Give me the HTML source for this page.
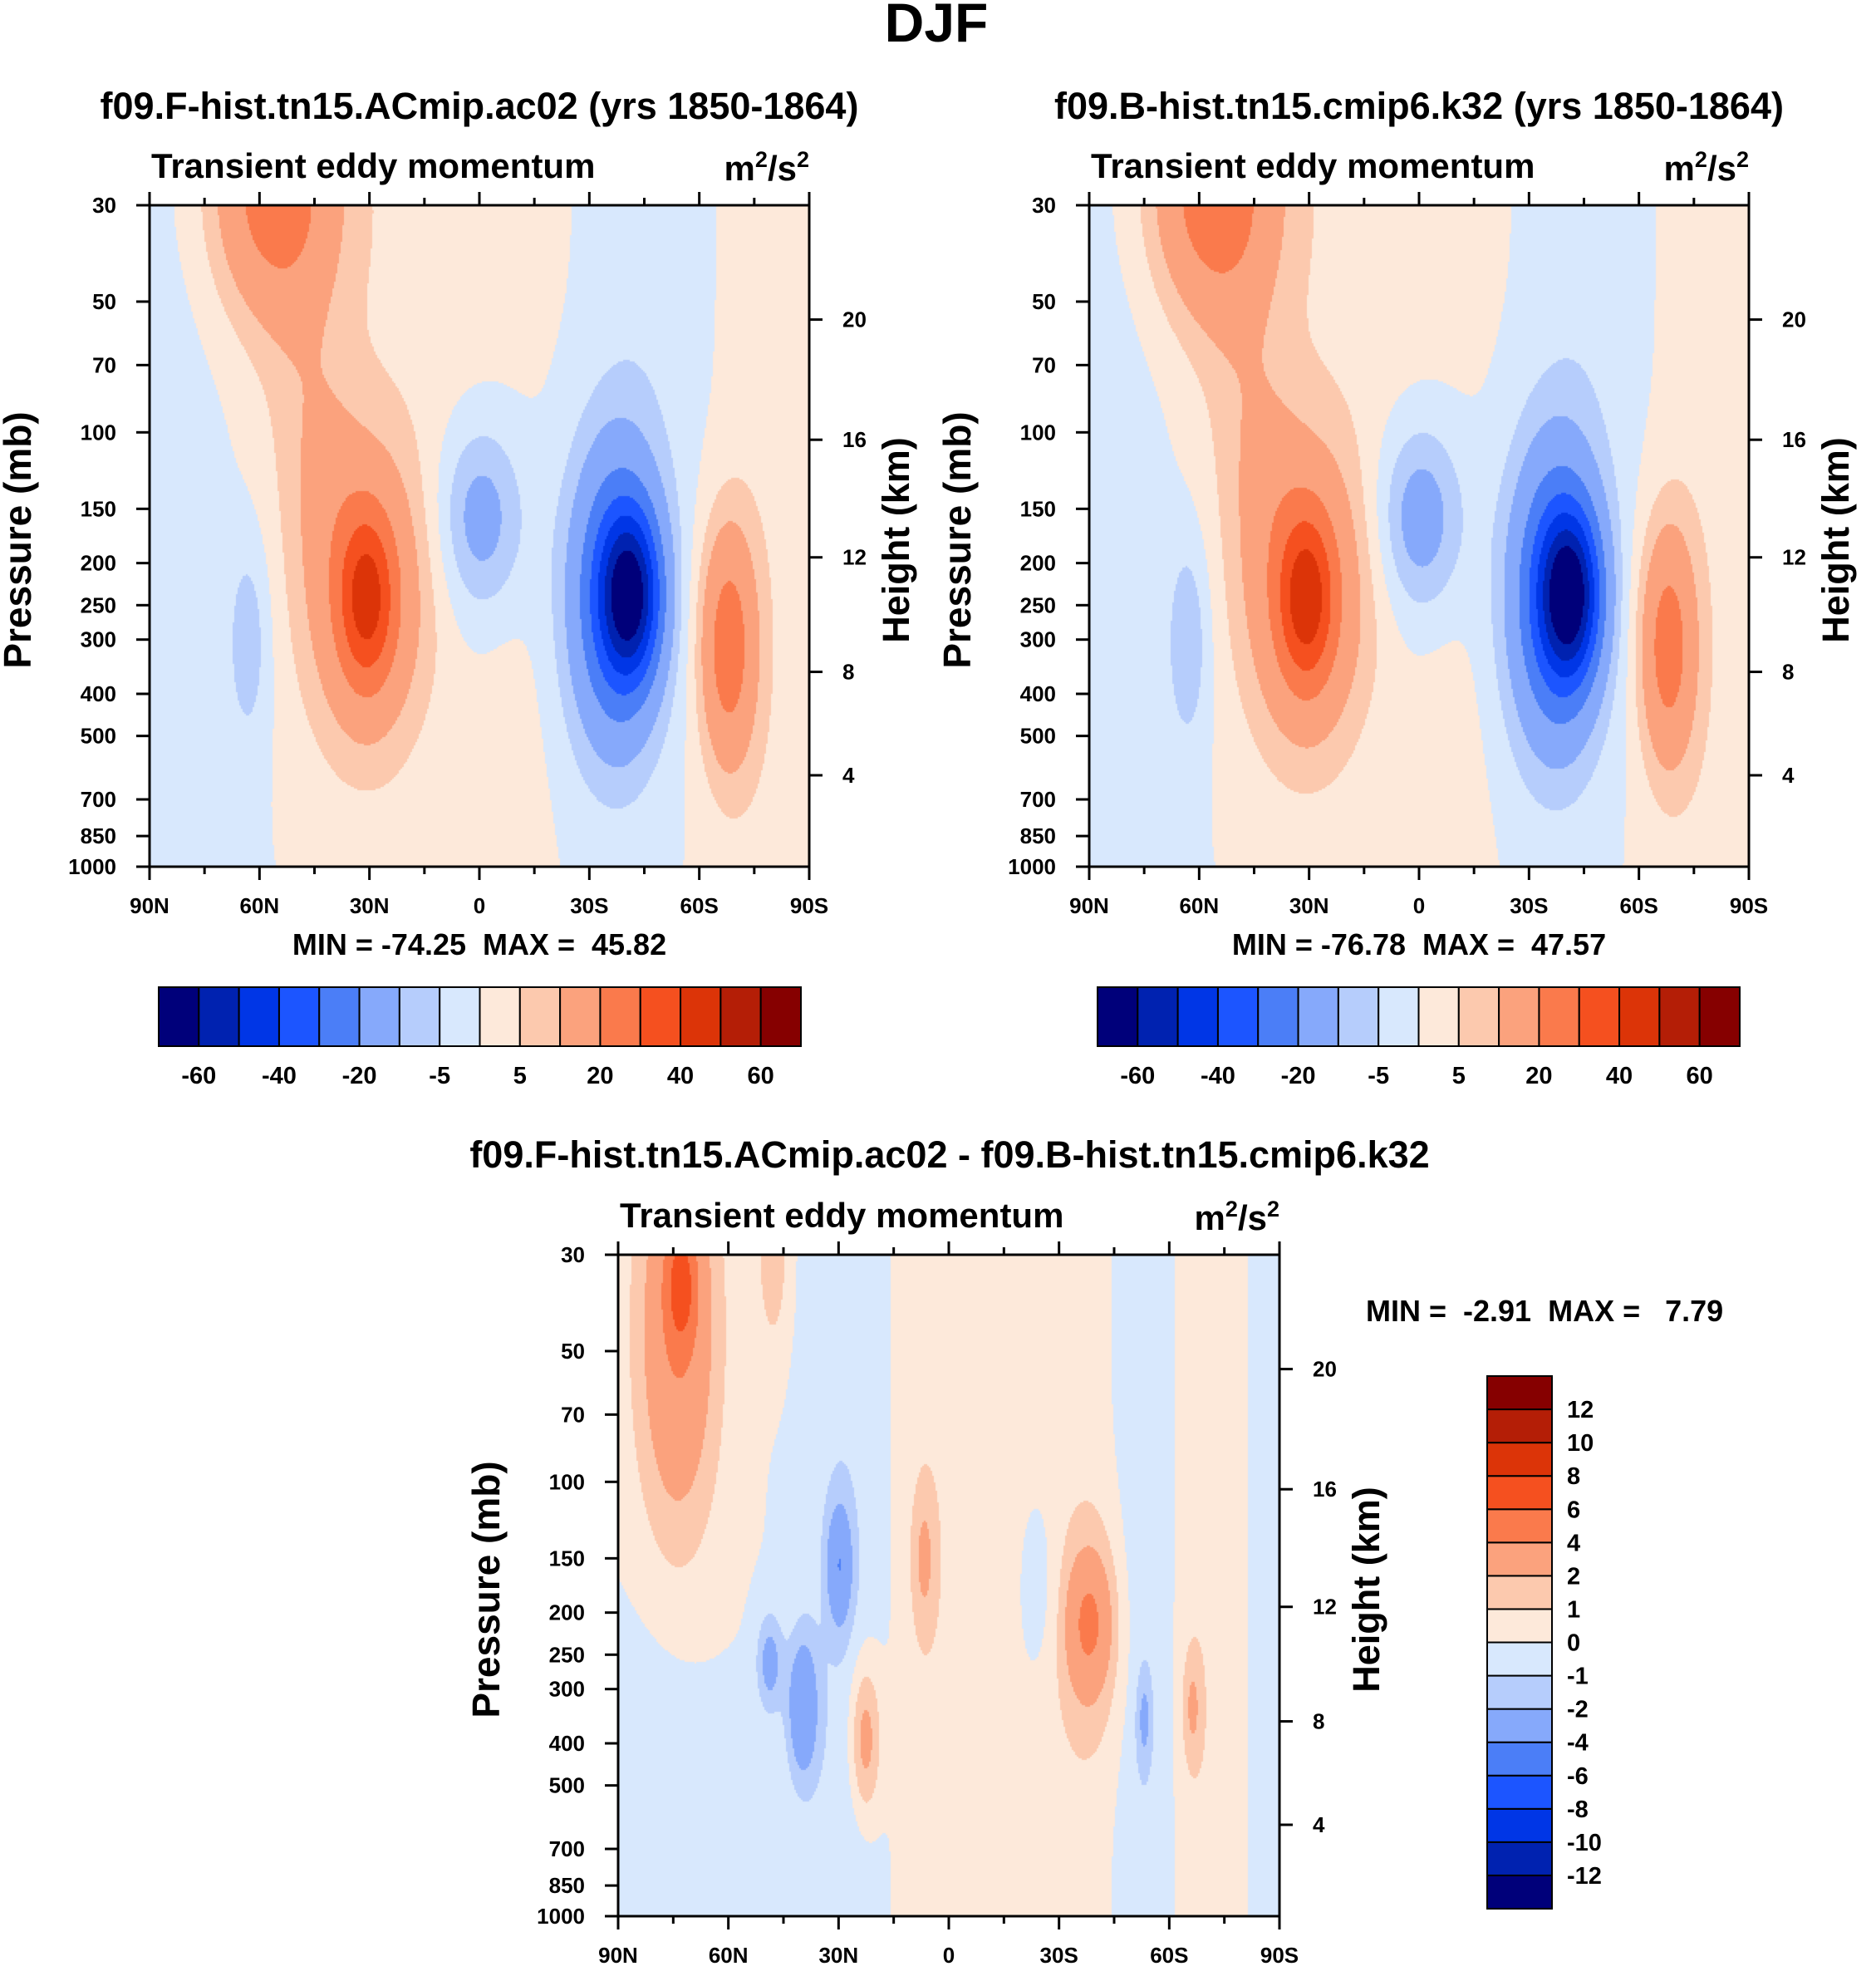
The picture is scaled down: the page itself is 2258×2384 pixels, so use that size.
<!DOCTYPE html>
<html><head><meta charset="utf-8">
<style>
html,body{margin:0;padding:0;background:#fff;}
#root{position:relative;width:2258px;height:2384px;overflow:hidden;font-family:"Liberation Sans",Arial,sans-serif;font-weight:bold;}
canvas{position:absolute;}
svg{position:absolute;left:0;top:0;}
text{font-family:"Liberation Sans",Arial,sans-serif;font-weight:bold;fill:#000;white-space:pre;}
</style></head>
<body>
<div id="root">
<canvas id="c1"></canvas>
<canvas id="c2"></canvas>
<canvas id="c3"></canvas>
<svg id="svg" width="2258" height="2384"></svg>
</div>
<script>
// ---- data ----
const colors = ["#00007a","#0022b0","#0036e6","#1c55ff","#4b7ef7","#86a9fb","#b6cdfc","#d8e8fd","#fde9da","#fcc9ae","#fba27d","#fa7a4c","#f5501f","#dc3408","#b41e06","#860000"];
const levelsMain = [-60,-50,-40,-30,-20,-10,-5,0,5,10,20,30,40,50,60];
const levelsDiff = [-12,-10,-8,-6,-4,-2,-1,0,1,2,4,6,8,10,12];
const mainLabels = [-60,-40,-20,-5,5,20,40,60];
const diffLabels = [12,10,8,6,4,2,1,0,-1,-2,-4,-6,-8,-10,-12];
const pTicks = [30,50,70,100,150,200,250,300,400,500,700,850,1000];
const hTicks = [4,8,12,16,20];
const hTickP = [616,356,194,104,55];   // standard-atmosphere pressure at each height tick
const latTicks = [90,60,30,0,-30,-60,-90];
const latLabels = ["90N","60N","30N","0","30S","60S","90S"];

// blob fields: lat (deg, +N), pressure (mb), amplitude, lat width, log-p width
const leftLat  = [-41, -37,  31,  31, -67.6,   0,  63,  56,  50,  42,  85,  25, -45, -80,  -8];
const leftP    = [236, 240, 240, 240,  310, 157, 300,  28,  80, 120, 300,  35,  40, 300, 700];
const leftAmp  = [-44, -32,  26,  21,   25, -14,  -8,  24,   4,   4,  -3,   3,  -3,   3,   3];
const leftLW   = [5.5,   9,   5,  12,  5.5,   8,   4,  12,   8,   7,  12,  30,  12,  10,   7];
const leftPW   = [.13, .25, .13, .26,  .20, .15, .17, .20, .25, .20, 1.2, .40, .50,   2, .30];

const rightLat = [-41, -37,  31,  31, -67.6,   0,  63,  56,  50,  42,  85,  25, -45, -80,  -8];
const rightP   = [236, 240, 240, 240,  310, 157, 300,  28,  80, 120, 300,  35,  40, 300, 700];
const rightAmp = [-46, -33,  27,  22,   24, -15,  -9,  25,   4,   4,  -3,   3,  -3,   3,   3];
const rightLW  = [5.5,   9,   5,  12,  5.5,   8,   4,  12,   8,   7,  12,  30,  12,  10,   7];
const rightPW  = [.13, .25, .13, .26,  .20, .15, .17, .20, .25, .20, 1.2, .40, .50,   2, .30];

const diffLat  = [ 73,  74,  48,   30,   40,   49,  23,   7, -38, -38,  -53, -66,  28,  80,   0,  -52, -70,  -25, -88, -35];
const diffP    = [ 35,  45,  30,  155,  330,  260, 390, 150, 210, 220,  350, 330, 300, 500, 200,  300, 300,  180, 300, 300];
const diffAmp  = [4.0, 3.8, 1.8, -3.2, -3.5, -2.6, 3.0, 1.8, 2.5, 1.8, -1.8, 1.8,-0.9,-0.7, 0.7, -0.8, 0.7, -0.8,-0.8, 0.4];
const diffLW   = [  3,   8,   3,  2.5,    3,  2.5,   3, 2.5,   4,   7,  1.5,   2,   8,  12,  12,    5,   5,    4,   3,   8];
const diffPW   = [.10, .35, .15,  .10,  .12,  .08, .13, .13, .10, .20,  .08, .10,   2, .30,   2,    2,   2,  .15,   2,   2];

// ---- geometry ----
const P0=Math.log10(1000), P1=Math.log10(30);
function mkAxes(x0,y0,w,h){
  return {x0,y0,w,h,
    x:lat=>x0+(90-lat)/180*w,
    y:p=>y0+h-(P0-Math.log10(p))/(P0-P1)*h};
}
function hex(c){return [parseInt(c.slice(1,3),16),parseInt(c.slice(3,5),16),parseInt(c.slice(5,7),16)];}
const rgb = colors.map(hex);
function drawField(id,ax,lats,ps,amps,lws,pws,levels){
  const cv=document.getElementById(id);
  cv.width=ax.w;cv.height=ax.h;cv.style.left=ax.x0+'px';cv.style.top=ax.y0+'px';
  const ctx=cv.getContext('2d');const img=ctx.createImageData(ax.w,ax.h);
  for(let j=0;j<ax.h;j+=2){
    const lp=P0-(ax.h-j)/ax.h*(P0-P1);
    for(let i=0;i<ax.w;i+=2){
      const lat=90-i/ax.w*180;
      let v=0;
      for(let k=0;k<lats.length;k++){
        const dl=(lat-lats[k])/lws[k], dp=(lp-Math.log10(ps[k]))/pws[k];
        v+=amps[k]*Math.exp(-0.5*(dl*dl+dp*dp));
      }
      let idx=0;while(idx<levels.length&&v>=levels[idx])idx++;
      const c=rgb[idx];
      for(let a=0;a<2;a++)for(let b=0;b<2;b++){
        if(j+a<ax.h&&i+b<ax.w){const o=((j+a)*ax.w+i+b)*4;img.data[o]=c[0];img.data[o+1]=c[1];img.data[o+2]=c[2];img.data[o+3]=255;}
      }
    }
  }
  ctx.putImageData(img,0,0);
}
const svg=document.getElementById('svg');
const NS='http://www.w3.org/2000/svg';
function el(tag,attrs,parent){const e=document.createElementNS(NS,tag);for(const k in attrs)e.setAttribute(k,attrs[k]);(parent||svg).appendChild(e);return e;}
function txt(s,x,y,size,anchor,parent){const t=el('text',{x,y,'font-size':size,'text-anchor':anchor||'start'},parent);t.textContent=s;return t;}

function drawAxes(ax,name){
  const g=el('g',{});
  
  
  el('rect',{x:ax.x0,y:ax.y0,width:ax.w,height:ax.h,fill:'none',stroke:'#000','stroke-width':3},g);
  const T=16,t=9;
  for(let lat=90;lat>=-90;lat-=15){
    const x=ax.x(lat),len=(lat%30===0)?T:t;
    el('line',{x1:x,y1:ax.y0+ax.h,x2:x,y2:ax.y0+ax.h+len,stroke:'#000','stroke-width':3},g);
    el('line',{x1:x,y1:ax.y0,x2:x,y2:ax.y0-len,stroke:'#000','stroke-width':3},g);
  }
  latTicks.forEach((lat,i)=>{
    const l=txt(latLabels[i],ax.x(lat),ax.y0+ax.h+56,26,'middle',g);
    
    
  });
  pTicks.forEach(p=>{
    const y=ax.y(p);
    el('line',{x1:ax.x0,y1:y,x2:ax.x0-T,y2:y,stroke:'#000','stroke-width':3},g);
    const l=txt(String(p),ax.x0-40,y+9,26,'end',g);
    
    
  });
  hTicks.forEach((km,i)=>{
    const y=ax.y(hTickP[i]);
    el('line',{x1:ax.x0+ax.w,y1:y,x2:ax.x0+ax.w+T,y2:y,stroke:'#000','stroke-width':3},g);
    const l=txt(String(km),ax.x0+ax.w+40,y+9,26,'start',g);
    
    
  });
  const yc=ax.y0+ax.h/2;
  const pt=txt('Pressure (mb)',0,0,46,'middle',g);
  pt.setAttribute('transform',`translate(${ax.x0-143},${yc+5}) rotate(-90)`);
  
  
  const ht=txt('Height (km)',0,0,45,'middle',g);
  ht.setAttribute('transform',`translate(${ax.x0+ax.w+120},${yc+5}) rotate(-90)`);
  
  
  const st=txt('Transient eddy momentum',ax.x0+2,ax.y0-33,42,'start',g);
  
  
  const u=el('text',{x:ax.x0+ax.w,y:ax.y0-30,'font-size':42,'text-anchor':'end'},g);
  u.innerHTML='m<tspan dy="-16" font-size="27">2</tspan><tspan dy="16">/s</tspan><tspan dy="-16" font-size="27">2</tspan>';
  
  
}
function hbar(x0,y0,w,h,name){
  const g=el('g',{});
  
  
  const bw=w/colors.length;
  colors.forEach((c,i)=>{
    const r=el('rect',{x:x0+i*bw,y:y0,width:bw,height:h,fill:c,stroke:'#000','stroke-width':2},g);
    
    
  });
  const idxs=[0,2,4,6,8,10,12,14];
  mainLabels.forEach((v,k)=>{
    const l=txt(String(v),x0+(idxs[k]+1)*bw,y0+h+45,29,'middle',g);
    
    
  });
}
function vbar(x0,y0,w,h,name){
  const g=el('g',{});
  
  
  const bh=h/colors.length;
  colors.forEach((c,i)=>{
    const r=el('rect',{x:x0,y:y0+(colors.length-1-i)*bh,width:w,height:bh,fill:c,stroke:'#000','stroke-width':2},g);
    
    
  });
  diffLabels.forEach((v,k)=>{
    const l=txt(String(v),x0+w+18,y0+(k+1)*bh+10,29,'start',g);
    
    
  });
}

const A1=mkAxes(180,247,794,796), A2=mkAxes(1311,247,794,796), A3=mkAxes(744,1510,796,796);
drawField('c1',A1,leftLat,leftP,leftAmp,leftLW,leftPW,levelsMain);
drawField('c2',A2,rightLat,rightP,rightAmp,rightLW,rightPW,levelsMain);
drawField('c3',A3,diffLat,diffP,diffAmp,diffLW,diffPW,levelsDiff);
drawAxes(A1,'left-panel');drawAxes(A2,'right-panel');drawAxes(A3,'diff-panel');

let t;
t=txt('DJF',1127,50,66,'middle');
t=txt('f09.F-hist.tn15.ACmip.ac02 (yrs 1850-1864)',577,143,45,'middle');
t=txt('f09.B-hist.tn15.cmip6.k32 (yrs 1850-1864)',1708,143,45,'middle');
t=txt('f09.F-hist.tn15.ACmip.ac02 - f09.B-hist.tn15.cmip6.k32',1143,1405,45,'middle');
t=txt('MIN = -74.25  MAX =  45.82',577,1149,36,'middle');
t=txt('MIN = -76.78  MAX =  47.57',1708,1149,36,'middle');
t=txt('MIN =  -2.91  MAX =   7.79',1644,1590,36,'start');
hbar(191,1188,773,71,'left-colorbar');
hbar(1321,1188,773,71,'right-colorbar');
vbar(1790,1656,78,641,'diff-colorbar');
</script>
</body></html>
